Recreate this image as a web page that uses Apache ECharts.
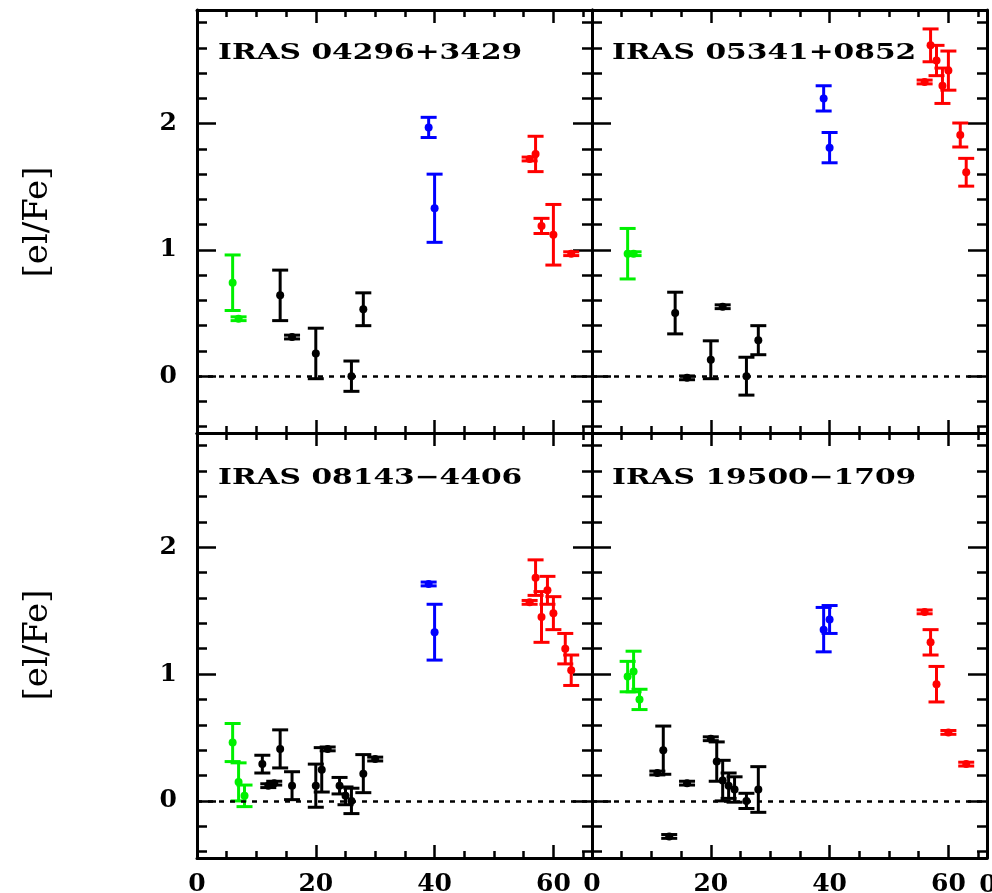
<!DOCTYPE html>
<html>
<head>
<meta charset="utf-8">
<script src="https://cdn.jsdelivr.net/npm/echarts@6/dist/echarts.min.js"></script>
<style>
  html, body { margin: 0; padding: 0; background: #fff; overflow: hidden; }
  #chart { width: 992px; height: 893px; }
</style>
</head>
<body>
<div id="chart"></div>
<script>
// [x (atomic number), [el/Fe], error]
var p1_green = [[6, 0.74, 0.22], [7, 0.455, 0.015]];
var p1_black = [[14, 0.64, 0.2], [16, 0.31, 0.015], [20, 0.18, 0.2], [26, 0.0, 0.12], [28, 0.53, 0.13]];
var p1_blue  = [[39, 1.97, 0.08], [40, 1.33, 0.27]];
var p1_red   = [[56, 1.72, 0.015], [57, 1.76, 0.14], [58, 1.19, 0.06], [60, 1.12, 0.24], [63, 0.97, 0.015]];

var p2_green = [[6, 0.97, 0.2], [7, 0.97, 0.015]];
var p2_black = [[14, 0.5, 0.165], [16, -0.013, 0.015], [20, 0.13, 0.15], [22, 0.55, 0.015], [26, 0.0, 0.15], [28, 0.285, 0.115]];
var p2_blue  = [[39, 2.2, 0.1], [40, 1.81, 0.12]];
var p2_red   = [[56, 2.33, 0.015], [57, 2.62, 0.13], [58, 2.5, 0.12], [59, 2.3, 0.14], [60, 2.42, 0.155], [62, 1.91, 0.095], [63, 1.615, 0.11]];

var p3_green = [[6, 0.46, 0.15], [7, 0.15, 0.15], [8, 0.04, 0.085]];
var p3_black = [[11, 0.29, 0.07], [12, 0.12, 0.015], [13, 0.14, 0.015], [14, 0.41, 0.15], [16, 0.12, 0.11], [20, 0.12, 0.17],
                [21, 0.245, 0.175], [22, 0.41, 0.015], [24, 0.12, 0.065], [25, 0.04, 0.07], [26, 0.0, 0.1], [28, 0.215, 0.15], [30, 0.33, 0.015]];
var p3_blue  = [[39, 1.71, 0.015], [40, 1.33, 0.22]];
var p3_red   = [[56, 1.565, 0.015], [57, 1.76, 0.14], [58, 1.45, 0.2], [59, 1.66, 0.11], [60, 1.48, 0.13], [62, 1.2, 0.12], [63, 1.03, 0.12]];

var p4_green = [[6, 0.98, 0.12], [7, 1.02, 0.16], [8, 0.8, 0.08]];
var p4_black = [[11, 0.22, 0.015], [12, 0.4, 0.19], [13, -0.28, 0.015], [16, 0.14, 0.015], [20, 0.49, 0.015], [21, 0.31, 0.155],
                [22, 0.16, 0.16], [23, 0.12, 0.1], [24, 0.09, 0.1], [26, 0.0, 0.06], [28, 0.09, 0.18]];
var p4_blue  = [[39, 1.35, 0.175], [40, 1.43, 0.11]];
var p4_red   = [[56, 1.49, 0.015], [57, 1.25, 0.1], [58, 0.92, 0.14], [60, 0.54, 0.015], [63, 0.29, 0.015]];

var titles = ['IRAS 04296+3429', 'IRAS 05341+0852', 'IRAS 08143\u22124406', 'IRAS 19500\u22121709'];
var xMajor = [0, 20, 40, 60];
var xMinor = [5, 10, 15, 25, 30, 35, 45, 50, 55, 65];
var yMajor = [0, 1, 2];
var yMinor = [-0.4, -0.2, 0.2, 0.4, 0.6, 0.8, 1.2, 1.4, 1.6, 1.8, 2.2, 2.4, 2.6, 2.8];
var yLabel = '[el/Fe]';

var chart = echarts.init(document.getElementById('chart'), null, {renderer: 'canvas'});

var panels = [
    {green: p1_green, black: p1_black, blue: p1_blue, red: p1_red},
    {green: p2_green, black: p2_black, blue: p2_blue, red: p2_red},
    {green: p3_green, black: p3_black, blue: p3_blue, red: p3_red},
    {green: p4_green, black: p4_black, blue: p4_blue, red: p4_red}
];
var colors = {green: '#00f000', black: '#000000', blue: '#0000ff', red: '#ff0000'};

var grids = [
    {left: 197, top: 10, width: 395, height: 423},
    {left: 592, top: 10, width: 395, height: 423},
    {left: 197, top: 433, width: 395, height: 425},
    {left: 592, top: 433, width: 395, height: 425}
];
grids.forEach(function(g){ g.outerBoundsMode = 'none'; });

var labelFont = {color: '#000', fontSize: 25, fontFamily: 'DejaVu Serif', fontWeight: 'bold'};

function makeAxis(kind, g, pos, vals, len, line, label) {
    return {
        type: 'value', gridIndex: g, position: pos,
        min: kind === 'x' ? 0 : -0.45,
        max: kind === 'x' ? 66.5 : 2.9,
        axisLine: {show: line, onZero: false, lineStyle: {color: '#000', width: 3}},
        axisTick: {show: true, inside: true, length: len, customValues: vals, lineStyle: {color: '#000', width: 2.5}},
        axisLabel: Object.assign({show: label, customValues: vals, margin: kind === 'x' ? 14 : 20}, labelFont),
        splitLine: {show: false}
    };
}

var xAxes = [], yAxes = [];
for (var g = 0; g < 4; g++) {
    var bottomRow = g >= 2, leftCol = (g % 2) === 0;
    xAxes.push(makeAxis('x', g, 'bottom', xMajor, 13, true, bottomRow));
    xAxes.push(makeAxis('x', g, 'bottom', xMinor, 7, false, false));
    xAxes.push(makeAxis('x', g, 'top', xMajor, 13, true, false));
    xAxes.push(makeAxis('x', g, 'top', xMinor, 7, false, false));
    yAxes.push(makeAxis('y', g, 'left', yMajor, 19, true, leftCol));
    yAxes.push(makeAxis('y', g, 'left', yMinor, 10, false, false));
    yAxes.push(makeAxis('y', g, 'right', yMajor, 19, true, false));
    yAxes.push(makeAxis('y', g, 'right', yMinor, 10, false, false));
}

function renderErr(params, api) {
    var x = api.value(0), y = api.value(1), e = api.value(2);
    var c = api.coord([x, y]);
    var hi = api.coord([x, y + e]);
    var lo = api.coord([x, y - e]);
    var color = api.visual('color');
    var cap = 8;
    var st = {stroke: color, lineWidth: 3};
    return {
        type: 'group',
        children: [
            {type: 'line', shape: {x1: c[0], y1: hi[1], x2: c[0], y2: lo[1]}, style: st},
            {type: 'line', shape: {x1: c[0] - cap, y1: hi[1], x2: c[0] + cap, y2: hi[1]}, style: st},
            {type: 'line', shape: {x1: c[0] - cap, y1: lo[1], x2: c[0] + cap, y2: lo[1]}, style: st},
            {type: 'circle', shape: {cx: c[0], cy: c[1], r: 4}, style: {fill: color}}
        ]
    };
}

var series = [];
panels.forEach(function(p, i){
    ['green', 'black', 'blue', 'red'].forEach(function(k){
        var s = {
            type: 'custom',
            xAxisIndex: i * 4,
            yAxisIndex: i * 4,
            itemStyle: {color: colors[k]},
            renderItem: renderErr,
            data: p[k],
            clip: false,
            z: 3
        };
        if (k === 'black') {
            s.markLine = {
                silent: true, symbol: 'none', label: {show: false},
                lineStyle: {type: [5, 6], color: '#000', width: 2.5},
                data: [{yAxis: 0}]
            };
        }
        series.push(s);
    });
});

// titles + y labels
var graphics = [];
var titlePos = [[218, 53], [612, 53], [218, 478], [612, 478]];
titles.forEach(function(t, i){
    graphics.push({
        type: 'text', x: titlePos[i][0], y: titlePos[i][1], scaleX: 1.35, z: 10,
        style: {text: t, font: 'bold 22px "DejaVu Serif"', fill: '#000', align: 'left', verticalAlign: 'middle'}
    });
});
[222, 645].forEach(function(cy){
    graphics.push({
        type: 'text', x: 38, y: cy, rotation: Math.PI / 2, z: 10,
        style: {text: yLabel, font: '34px "DejaVu Serif"', fill: '#000', align: 'center', verticalAlign: 'middle'}
    });
});
// the "0" of a next panel, cut off by the right edge of the picture
graphics.push({
    type: 'text', x: 988, y: 885, z: 10,
    style: {text: '0', font: 'bold 25px "DejaVu Serif"', fill: '#000', align: 'center', verticalAlign: 'middle'}
});

chart.setOption({
    animation: false,
    backgroundColor: '#fff',
    grid: grids,
    xAxis: xAxes,
    yAxis: yAxes,
    series: series,
    graphic: graphics
});
</script>
</body>
</html>
